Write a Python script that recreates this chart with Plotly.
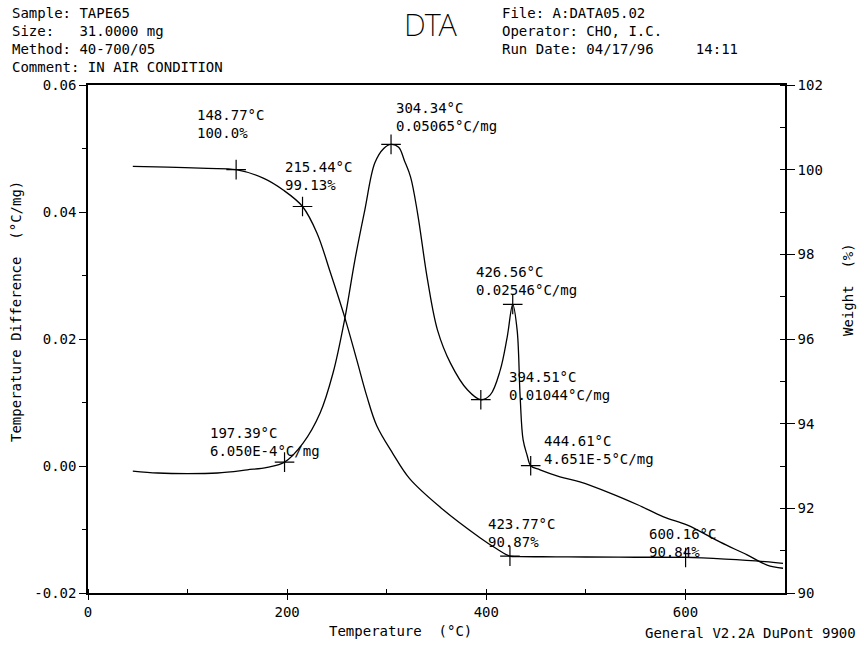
import plotly.graph_objects as go

# ---- DTA signal (°C/mg) versus temperature (°C) ----
dta_temp = [45, 70, 100, 130, 160, 180, 216, 233, 246, 258, 268, 278, 288, 297,
            312, 318, 324, 331, 341, 351, 364, 381, 404, 414, 421, 431, 434, 437,
            441, 454, 474, 494, 525, 552, 578, 602, 635, 662, 682, 698]
dta_val = [-0.0008, -0.0011, -0.0012, -0.0011, -0.0006, -0.0002, 0.0036, 0.0083,
           0.0146, 0.0233, 0.0324, 0.0403, 0.0477, 0.0500, 0.0502, 0.0480, 0.0455,
           0.0398, 0.0293, 0.0214, 0.0162, 0.0120, 0.0112, 0.0151, 0.0203, 0.0214,
           0.0109, 0.0041, 0.0017, -0.0006, -0.0017, -0.0025, -0.0043, -0.0061,
           -0.0080, -0.0093, -0.0120, -0.0140, -0.0156, -0.0161]

# ---- TGA weight (%) versus temperature (°C) ----
wt_temp = [45, 80, 120, 176, 196, 230, 243, 258, 270, 280, 290, 306, 323, 354,
           394, 410, 434, 470, 500, 550, 640, 680, 698]
wt_val = [100.08, 100.06, 100.03, 99.80, 99.52, 98.50, 97.60, 96.50, 95.50,
          94.65, 93.95, 93.30, 92.70, 92.02, 91.30, 91.05, 90.86, 90.855, 90.85,
          90.845, 90.80, 90.74, 90.70]

# ---- analysed points ----
dta_pt_temp = [197.39, 304.34, 394.51, 426.56, 444.61]
dta_pt_val = [6.050e-4, 0.05065, 0.01044, 0.02546, 4.651e-5]
dta_pt_text = ["197.39°C<br>6.050E-4°C/mg", "304.34°C<br>0.05065°C/mg",
               "394.51°C<br>0.01044°C/mg", "426.56°C<br>0.02546°C/mg",
               "444.61°C<br>4.651E-5°C/mg"]

wt_pt_temp = [148.77, 215.44, 423.77, 600.16]
wt_pt_val = [100.0, 99.13, 90.87, 90.84]
wt_pt_text = ["148.77°C<br>100.0%", "215.44°C<br>99.13%",
              "423.77°C<br>90.87%", "600.16°C<br>90.84%"]

# ---- axes ----
x_ticks = [0, 200, 400, 600]
y_ticks = [-0.02, 0.00, 0.02, 0.04, 0.06]
y_ticktext = ["-0.02", "0.00", "0.02", "0.04", "0.06"]
y2_ticks = [90, 92, 94, 96, 98, 100, 102]

NB = "\u00a0"
header_left = ["Sample: TAPE65", "Size:   31.0000 mg",
               "Method: 40-700/05", "Comment: IN AIR CONDITION"]
header_right = ["File: A:DATA05.02", "Operator: CHO, I.C.",
                "Run Date: 04/17/96     14:11"]


def merged(ts, vs, pts, pvs):
    pairs = sorted(list(zip(ts, vs)) + list(zip(pts, pvs)))
    return [p[0] for p in pairs], [p[1] for p in pairs]


W, H = 864, 645
L, R, T, B = 88, 79, 85, 52
PW, PH = W - L - R, H - T - B


def px(x, y):
    return (x - L) / PW, (H - B - y) / PH


FONT = "DejaVu Sans Mono"
FS = 14
INK = "black"

fig = go.Figure()

dx, dy = merged(dta_temp, dta_val, dta_pt_temp, dta_pt_val)
wx, wy = merged(wt_temp, wt_val, wt_pt_temp, wt_pt_val)

fig.add_trace(go.Scatter(x=dx, y=dy, mode="lines", line=dict(color=INK, width=1.3),
                         line_shape="spline", showlegend=False))
fig.add_trace(go.Scatter(x=wx, y=wy, mode="lines", line=dict(color=INK, width=1.3),
                         line_shape="spline", yaxis="y2", showlegend=False))
fig.add_trace(go.Scatter(x=dta_pt_temp, y=dta_pt_val, mode="markers",
                         marker=dict(symbol="cross-thin", size=14,
                                     line=dict(color=INK, width=1.2)),
                         showlegend=False))
fig.add_trace(go.Scatter(x=wt_pt_temp, y=wt_pt_val, mode="markers", yaxis="y2",
                         marker=dict(symbol="cross-thin", size=14,
                                     line=dict(color=INK, width=1.2)),
                         showlegend=False))

annotations = []


def note(x, y, text, xanchor="left", size=FS, family=FONT, **kw):
    ax_, ay_ = px(x, y)
    annotations.append(dict(x=ax_, y=ay_, xref="paper", yref="paper",
                            text=text.replace(" ", NB), showarrow=False,
                            xanchor=xanchor, yanchor="middle", align="left",
                            font=dict(family=family, size=size, color=INK,
                                      **kw.pop("fontkw", {})), **kw))


# point labels (left edge, vertical centre of the two-line block), in pixels
dta_label_pos = [(208, 442), (394, 117), (507, 386), (474, 281), (542, 450)]
wt_label_pos = [(195, 124), (283, 176), (486, 533), (647, 543)]
for txt, (lx, ly) in zip(dta_pt_text + wt_pt_text, dta_label_pos + wt_label_pos):
    note(lx, ly, txt)

# header block
for i, s in enumerate(header_left):
    note(10, 13 + i * 18, s)
for i, s in enumerate(header_right):
    note(500, 13 + i * 18, s)

note(431, 24, "DTA", xanchor="center", size=31, family="Noto Sans",
     fontkw=dict(weight=200))

# axis titles
note(16, 312, "Temperature Difference  (°C/mg)", xanchor="center", textangle=-90)
note(848, 290, "Weight  (%)", xanchor="center", textangle=-90)
note(400, 631, "Temperature  (°C)", xanchor="center")
note(858, 633, "General V2.2A DuPont 9900", xanchor="right")

axis_common = dict(showgrid=False, zeroline=False, showline=True, linecolor=INK,
                   linewidth=1.5, tickcolor=INK, tickwidth=1.3,
                   tickfont=dict(family=FONT, size=FS, color=INK))

fig.update_layout(
    width=W, height=H,
    margin=dict(l=L, r=R, t=T, b=B, pad=0),
    paper_bgcolor="white", plot_bgcolor="white",
    xaxis=dict(range=[0, 700], tickvals=x_ticks, ticks="outside", ticklen=5,
               minor=dict(dtick=100, tick0=0, ticks="inside", ticklen=4,
                          tickcolor=INK),
               mirror=True, **axis_common),
    yaxis=dict(range=[-0.02, 0.06], tickvals=y_ticks, ticktext=y_ticktext,
               ticks="outside", ticklen=7,
               minor=dict(dtick=0.01, tick0=0, ticks="outside", ticklen=4,
                          tickcolor=INK),
               **axis_common),
    yaxis2=dict(range=[90, 102], tickvals=y2_ticks, overlaying="y", side="right",
                ticks="outside", ticklen=8,
                minor=dict(dtick=1, tick0=90, ticks="inside", ticklen=5,
                           tickcolor=INK),
                **axis_common),
    annotations=annotations,
)

fig.write_html("out.html")
